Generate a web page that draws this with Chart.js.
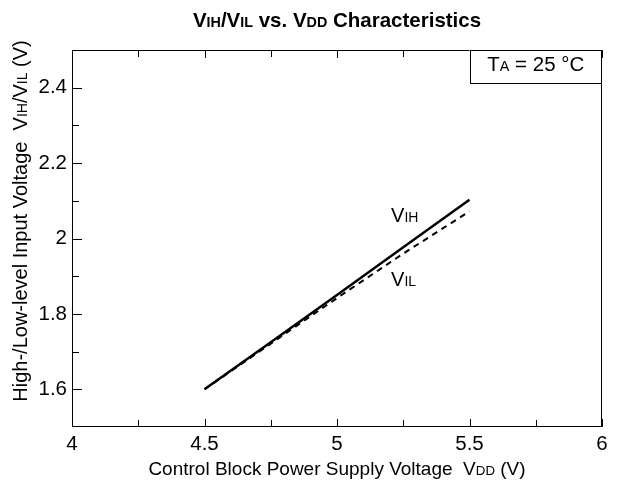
<!DOCTYPE html>
<html><head><meta charset="utf-8">
<script src="https://cdn.jsdelivr.net/npm/chart.js@4"></script>
<style>html,body{margin:0;padding:0;background:#fff;}#wrap{width:619px;height:498px;}</style>
</head><body><div id="wrap"><canvas id="c" width="619" height="498"></canvas></div>
<script>
// ---- data ----
const vdd = [4.5, 4.75, 5.0, 5.25, 5.5];
const vih = [1.600, 1.725, 1.850, 1.977, 2.103];
const vil = [1.600, 1.721, 1.842, 1.960, 2.072];
const xMajorTicks = [4, 4.5, 5, 5.5, 6];
const xMinorTicks = [4.25, 4.75, 5.25, 5.75];
const yMajorTicks = [1.6, 1.8, 2.0, 2.2, 2.4];
const yMinorTicks = [1.7, 1.9, 2.1, 2.3];

// ---- texts ----
const titleParts = [['V',0],['IH',1],['/V',0],['IL',1],[' vs. V',0],['DD',1],[' Characteristics',0]];
const xTitleParts = [['Control Block Power Supply Voltage  V',0],['DD',1],[' (V)',0]];
const yTitleParts = [['High-/Low-level Input Voltage  V',0],['IH',1],['/V',0],['IL',1],[' (V)',0]];
const vihLabel = [['V',0],['IH',1]];
const vilLabel = [['V',0],['IL',1]];
const condLabel = [['T',0],['A',1],[' = 25 \u00B0C',0]];

const FONT = '"Liberation Sans", Arial, Helvetica, sans-serif';

function setFont(ctx, size, bold){ ctx.font = (bold?'bold ':'') + size + 'px ' + FONT; }
function richWidth(ctx, parts, size, bold){
  let w = 0;
  for (const [t, sub] of parts){ setFont(ctx, sub ? size*0.7 : size, bold); w += ctx.measureText(t).width; }
  return w;
}
function drawRich(ctx, parts, x, y, size, bold, align){
  const w = richWidth(ctx, parts, size, bold);
  let cx = align === 'center' ? x - w/2 : (align === 'right' ? x - w : x);
  ctx.textBaseline = 'alphabetic'; ctx.textAlign = 'left';
  for (const [t, sub] of parts){
    setFont(ctx, sub ? size*0.7 : size, bold);
    ctx.fillText(t, cx, y);
    cx += ctx.measureText(t).width;
  }
}

const decor = {
  id: 'decor',
  afterDatasetsDraw(chart){
    const {ctx, chartArea: a, scales: {x, y}} = chart;
    ctx.save();
    ctx.fillStyle = '#000'; ctx.strokeStyle = '#000';
    // frame
    ctx.lineWidth = 1;
    ctx.strokeRect(a.left + 0.5, a.top + 0.5, a.right - a.left - 1, a.bottom - a.top - 1);
    // ticks
    const tick = (vals, len, axis) => {
      for (const v of vals){
        if (axis === 'x'){
          const px = Math.round(x.getPixelForValue(v)) + 0.5;
          ctx.beginPath(); ctx.moveTo(px, a.bottom); ctx.lineTo(px, a.bottom - len); ctx.stroke();
          ctx.beginPath(); ctx.moveTo(px, a.top); ctx.lineTo(px, a.top + len); ctx.stroke();
        } else {
          const py = Math.round(y.getPixelForValue(v)) + 0.5;
          ctx.beginPath(); ctx.moveTo(a.left, py); ctx.lineTo(a.left + len, py); ctx.stroke();
        }
      }
    };
    tick(xMajorTicks, 8, 'x'); tick(xMinorTicks, 7, 'x');
    tick(yMajorTicks, 10, 'y'); tick(yMinorTicks, 7, 'y');
    // condition box
    const bx0 = x.getPixelForValue(5.5), bx1 = a.right, by0 = a.top, by1 = y.getPixelForValue(2.412);
    ctx.fillStyle = '#fff';
    ctx.fillRect(bx0, by0, bx1 - bx0, by1 - by0);
    ctx.strokeRect(Math.round(bx0) + 0.5, by0 + 0.5, bx1 - Math.round(bx0) - 1, Math.round(by1 - by0));
    ctx.fillStyle = '#000';
    drawRich(ctx, condLabel, (bx0 + bx1)/2, y.getPixelForValue(2.444), 20.5, false, 'center');
    // series labels
    drawRich(ctx, vihLabel, x.getPixelForValue(5.204), y.getPixelForValue(2.045), 20, false, 'left');
    drawRich(ctx, vilLabel, x.getPixelForValue(5.204), y.getPixelForValue(1.873), 20, false, 'left');
    // title
    drawRich(ctx, titleParts, (a.left + a.right)/2, 27, 20.5, true, 'center');
    // x title
    drawRich(ctx, xTitleParts, (a.left + a.right)/2, 475, 19, false, 'center');
    // y title
    ctx.translate(27, 221);
    ctx.rotate(-Math.PI/2);
    drawRich(ctx, yTitleParts, 0, 0, 20, false, 'center');
    ctx.restore();
  }
};

new Chart(document.getElementById('c'), {
  type: 'line',
  data: {
    datasets: [
      { label: 'VIH', data: vdd.map((v, i) => ({x: v, y: vih[i]})), borderColor: '#000', borderWidth: 2.5, pointRadius: 0, tension: 0, fill: false },
      { label: 'VIL', data: vdd.map((v, i) => ({x: v, y: vil[i]})), borderColor: '#000', borderWidth: 2, borderDash: [6, 5], pointRadius: 0, tension: 0, fill: false }
    ]
  },
  options: {
    responsive: false, animation: false, devicePixelRatio: 1,
    layout: { padding: { top: 50, right: 17, left: 0, bottom: 0 } },
    plugins: { legend: { display: false }, tooltip: { enabled: false }, title: { display: false } },
    scales: {
      x: {
        type: 'linear', min: 4, max: 6,
        afterBuildTicks: s => { s.ticks = xMajorTicks.map(v => ({value: v})); },
        afterFit: s => { s.height = 71; },
        grid: { display: false, drawTicks: false }, border: { display: false },
        ticks: { color: '#000', font: { family: FONT, size: 20.5 }, padding: 5, maxRotation: 0, autoSkip: false, callback: v => String(+v.toFixed(2)) }
      },
      y: {
        type: 'linear', min: 1.5, max: 2.5,
        afterBuildTicks: s => { s.ticks = yMajorTicks.map(v => ({value: v})); },
        afterFit: s => { s.width = 72; },
        grid: { display: false, drawTicks: false }, border: { display: false },
        ticks: { color: '#000', font: { family: FONT, size: 20.5 }, padding: 5, autoSkip: false, callback: v => String(+v.toFixed(2)) }
      }
    }
  },
  plugins: [decor]
});
</script></body></html>
